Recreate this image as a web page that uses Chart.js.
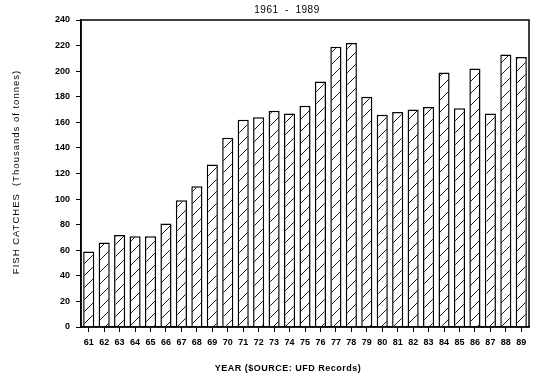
<!DOCTYPE html>
<html lang="en">
<head>
  <meta charset="UTF-8">
  <title>Fish catches 1961 - 1989</title>
  <script src="https://cdn.jsdelivr.net/npm/chart.js"></script>
  <style>
    html, body { margin: 0; padding: 0; background: #fff; }
    #wrap { width: 550px; height: 383px; }
  </style>
</head>
<body>
  <div id="wrap"><canvas id="catchChart"></canvas></div>

  <script>
    const years = ["61","62","63","64","65","66","67","68","69","70","71","72","73","74","75",
                   "76","77","78","79","80","81","82","83","84","85","86","87","88","89"];
    const catches = [59, 66, 72, 71, 71, 81, 99, 110, 127, 148, 162, 164, 169, 167, 173,
                     192, 219, 222, 180, 166, 168, 170, 172, 199, 171, 202, 167, 213, 211];
    const yTicks = [0, 20, 40, 60, 80, 100, 120, 140, 160, 180, 200, 220, 240];

    const chartTitle = "1961  -  1989";
    const xTitle = "YEAR ($OURCE: UFD Records)";
    const yTitle = "FISH CATCHES  (Thousands of tonnes)";

    // diagonal hatch like the old plotter fill
    function hatch() {
      const n = 12;
      const c = document.createElement("canvas");
      c.width = n; c.height = n;
      const g = c.getContext("2d");
      g.fillStyle = "#fff";
      g.fillRect(0, 0, n, n);
      g.strokeStyle = "#1a1a1a";
      g.lineWidth = 1;
      g.beginPath();
      g.moveTo(0, n); g.lineTo(n, 0);
      g.moveTo(-1, 1); g.lineTo(1, -1);
      g.moveTo(n - 1, n + 1); g.lineTo(n + 1, n - 1);
      g.stroke();
      return g.createPattern(c, "repeat");
    }

    const family = "'Liberation Sans', Arial, sans-serif";

    // box round the plot + the three titles, placed where the original has them
    const frame = {
      id: "frame",
      afterDraw(chart) {
        const a = chart.chartArea, ctx = chart.ctx;
        ctx.save();
        ctx.strokeStyle = "#000";
        ctx.lineWidth = 1.5;
        ctx.strokeRect(a.left, a.top, a.right - a.left, a.bottom - a.top);

        ctx.fillStyle = "#000";
        ctx.textAlign = "center";
        ctx.textBaseline = "middle";

        ctx.font = "10px " + family;
        ctx.letterSpacing = "0.5px";
        ctx.fillText(chartTitle, 287, 10);

        ctx.font = "bold 9px " + family;
        ctx.letterSpacing = "0.5px";
        ctx.fillText(xTitle, 288, 369);

        ctx.font = "9.5px " + family;
        ctx.letterSpacing = "1px";
        ctx.translate(16, 172);
        ctx.rotate(-Math.PI / 2);
        ctx.fillText(yTitle, 0, 0);
        ctx.restore();
      }
    };

    const font = { family: family, size: 9, weight: "bold" };

    new Chart(document.getElementById("catchChart"), {
      type: "bar",
      data: {
        labels: years,
        datasets: [{
          label: "Fish catches",
          data: catches,
          backgroundColor: hatch(),
          borderColor: "#000",
          borderWidth: 1.5,
          barPercentage: 0.72,
          categoryPercentage: 1
        }]
      },
      options: {
        responsive: true,
        maintainAspectRatio: false,
        animation: false,
        layout: { padding: { left: 0, right: 21, top: 20, bottom: 0 } },
        plugins: {
          legend: { display: false },
          tooltip: { enabled: false },
          title: { display: false }
        },
        scales: {
          x: {
            grid: { display: true, drawOnChartArea: false, offset: false, color: "#000", tickLength: 5 },
            border: { color: "#000", width: 1.5 },
            ticks: { color: "#000", font: font, padding: 5, maxRotation: 0, autoSkip: false },
            afterFit(scale) { scale.height = 56; }
          },
          y: {
            min: 0,
            max: 240,
            afterBuildTicks(scale) { scale.ticks = yTicks.map(v => ({ value: v })); },
            grid: { display: true, drawOnChartArea: false, color: "#000", tickLength: 5 },
            border: { color: "#000", width: 1.5 },
            ticks: { color: "#000", font: font, padding: 6 },
            afterFit(scale) { scale.width = 81; }
          }
        }
      },
      plugins: [frame]
    });
  </script>
</body>
</html>
